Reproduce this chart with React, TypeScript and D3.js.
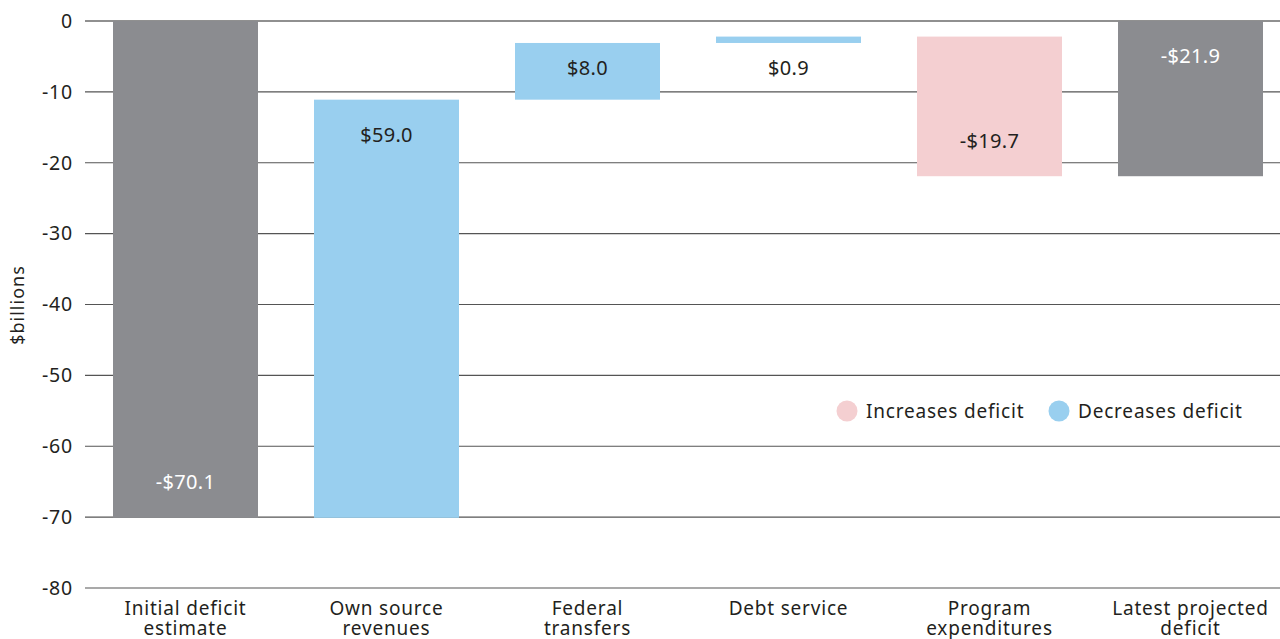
import React from "react";
import * as d3 from "d3";

const categories = [
  ["Initial deficit", "estimate"],
  ["Own source", "revenues"],
  ["Federal", "transfers"],
  ["Debt service"],
  ["Program", "expenditures"],
  ["Latest projected", "deficit"],
];
const kinds = ["total", "delta", "delta", "delta", "delta", "total"];
const values = [-70.1, 59.0, 8.0, 0.9, -19.7, -21.9];
const labels = ["-$70.1", "$59.0", "$8.0", "$0.9", "-$19.7", "-$21.9"];
const yTicks = [0, -10, -20, -30, -40, -50, -60, -70, -80];

const W = 1280;
const H = 639;
const FONT = "'Noto Sans', 'Open Sans', sans-serif";
const GREY = "#8b8c90";
const BLUE = "#99cfef";
const PINK = "#f4cfd1";
const TEXT = "#231f20";

export default function App() {
  const x = d3
    .scaleBand<number>()
    .domain(d3.range(categories.length))
    .range([85, 85 + 201 * 6])
    .paddingInner(56 / 201)
    .paddingOuter(28 / 201);
  const y = d3.scaleLinear().domain([0, -80]).range([21, 588]);

  let running = 0;
  const bars = values.map((v, i) => {
    let start: number, end: number;
    if (kinds[i] === "total") {
      start = 0;
      end = v;
      running = v;
    } else {
      start = running;
      end = running + v;
      running = end;
    }
    const top = Math.max(start, end);
    const bot = Math.min(start, end);
    const color = kinds[i] === "total" ? GREY : v > 0 ? BLUE : PINK;
    const h = top - bot;
    let labelVal: number;
    if (h < 2) labelVal = bot - 3.5;
    else if (h < 10) labelVal = top - 3.5;
    else if (kinds[i] === "total") labelVal = i === 0 ? bot + 5 : top - 5;
    else labelVal = v > 0 ? top - 5 : bot + 5;
    return { i, start, end, top, bot, color, labelVal };
  });

  return (
    <svg
      width={W}
      height={H}
      style={{ position: "absolute", left: 0, top: 0, background: "#fff" }}
      fontFamily={FONT}
    >
      {yTicks.map((t) => (
        <g key={t}>
          <line
            x1={85}
            x2={W}
            y1={y(t)}
            y2={y(t)}
            stroke={t === 0 ? "#222" : "#555"}
            strokeWidth={1.2}
          />
          <text
            x={73}
            y={y(t)}
            dy="0.35em"
            textAnchor="end"
            fontSize={19.5}
            letterSpacing={0.8}
            fill={TEXT}
          >
            {t}
          </text>
        </g>
      ))}
      <text
        transform={`translate(24,305) rotate(-90)`}
        textAnchor="middle"
        fontSize={18}
        letterSpacing={1}
        fill={TEXT}
      >
        $billions
      </text>
      {bars.map((b) => (
        <g key={b.i}>
          <rect
            x={x(b.i)}
            width={x.bandwidth()}
            y={y(b.top)}
            height={y(b.bot) - y(b.top)}
            fill={b.color}
          />
          <text
            x={(x(b.i) as number) + x.bandwidth() / 2}
            y={y(b.labelVal)}
            dy="0.35em"
            textAnchor="middle"
            fontSize={20}
            letterSpacing={0.3}
            fill={b.color === GREY ? "#fff" : TEXT}
          >
            {labels[b.i]}
          </text>
          <text
            x={(x(b.i) as number) + x.bandwidth() / 2}
            y={608}
            textAnchor="middle"
            fontSize={19}
            letterSpacing={0.8}
            fill={TEXT}
          >
            {categories[b.i].map((line, k) => (
              <tspan
                key={k}
                x={(x(b.i) as number) + x.bandwidth() / 2}
                dy={k === 0 ? "0.35em" : 20}
              >
                {line}
              </tspan>
            ))}
          </text>
        </g>
      ))}
      <g fontSize={19} fill={TEXT} letterSpacing={0.8}>
        <circle cx={847} cy={411} r={10.5} fill={PINK} />
        <text x={866} y={411} dy="0.35em">
          Increases deficit
        </text>
        <circle cx={1059} cy={411} r={10.5} fill={BLUE} />
        <text x={1078} y={411} dy="0.35em">
          Decreases deficit
        </text>
      </g>
    </svg>
  );
}
